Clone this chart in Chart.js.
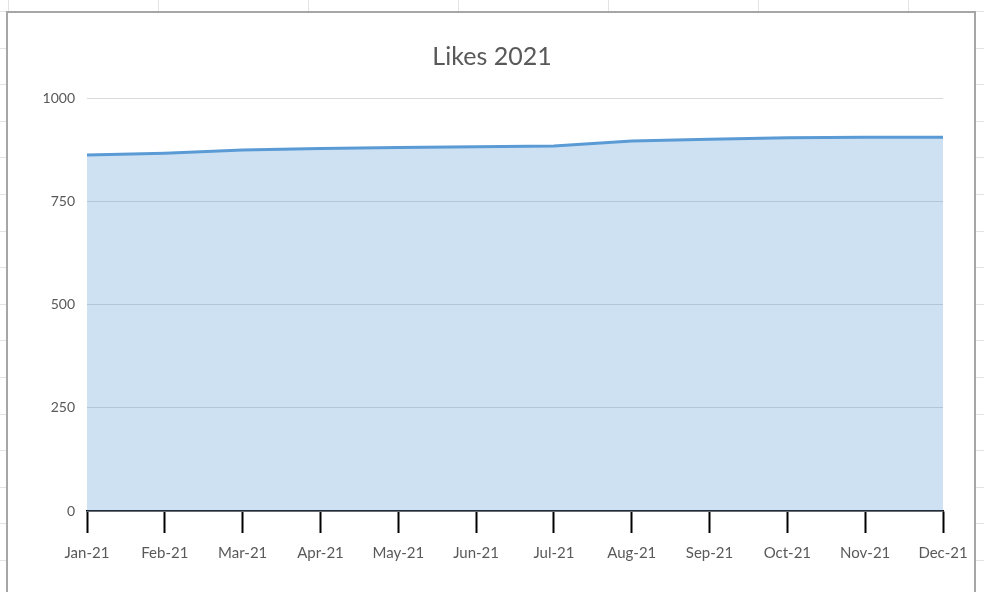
<!DOCTYPE html>
<html>
<head>
<meta charset="utf-8">
<script src="https://cdn.jsdelivr.net/npm/chart.js@4"></script>
<style>
  html, body { margin: 0; padding: 0; }
  body {
    width: 984px; height: 592px; overflow: hidden; position: relative;
    background-color: #fff;
    background-image:
      repeating-linear-gradient(to right, transparent 0 8px, #e3e3e3 8px 9px, transparent 9px 150px),
      repeating-linear-gradient(to bottom, transparent 0 11px, #e3e3e3 11px 12px, transparent 12px 36.6px);
  }
  #box {
    position: absolute; left: 6px; top: 11px; width: 966px; height: 600px;
    background: #fff; border: 2px solid #a6a6a6;
  }
  #wrap { position: absolute; left: 0; top: 0; width: 984px; height: 592px; }
</style>
</head>
<body>
<div id="box"></div>
<div id="wrap"><canvas id="myChart" width="984" height="592"></canvas></div>
<script>
const meses = ['Jan-21', 'Feb-21', 'Mar-21', 'Apr-21', 'May-21', 'Jun-21',
               'Jul-21', 'Aug-21', 'Sep-21', 'Oct-21', 'Nov-21', 'Dec-21'];
const likes = [862, 866, 874, 878, 880, 882, 884, 896, 900, 904, 905, 905];
const yTicks = [0, 250, 500, 750, 1000];

const gris = '#595959';

const ctx = document.getElementById('myChart');
const myChart = new Chart(ctx, {
  type: 'line',
  data: {
    labels: meses,
    datasets: [{
      data: likes,
      fill: 'origin',
      backgroundColor: 'rgba(91,155,213,0.3)',
      borderColor: '#5b9bd5',
      borderWidth: 3,
      tension: 0,
      pointRadius: 0
    }]
  },
  options: {
    responsive: false,
    animation: false,
    layout: { padding: 0 },
    plugins: {
      legend: { display: false },
      tooltip: { enabled: false },
      title: {
        display: true,
        text: 'Likes 2021',
        color: gris,
        font: { family: 'Lato', size: 25, weight: 'normal' },
        padding: { top: 42, bottom: 26 }
      }
    },
    scales: {
      x: {
        offset: false,
        grid: { drawOnChartArea: false, tickLength: 22, tickColor: '#000', tickWidth: 2 },
        border: { color: '#000', width: 1.5 },
        ticks: { color: gris, font: { family: 'Lato', size: 15 }, padding: 11, maxRotation: 0, autoSkip: false },
        afterFit: s => { s.height = 81; }
      },
      y: {
        min: 0,
        max: 1000,
        afterBuildTicks: s => { s.ticks = yTicks.map(v => ({ value: v })); },
        grid: { color: '#d9d9d9', lineWidth: 1, drawTicks: false },
        border: { display: false },
        ticks: { color: gris, font: { family: 'Lato', size: 14 }, padding: 12, callback: v => String(v) },
        afterFit: s => { s.width = 87; }
      },
      // espacio a la derecha para que el titulo quede centrado en todo el ancho
      derecha: {
        position: 'right',
        min: 0,
        max: 1000,
        grid: { display: false },
        border: { display: false },
        ticks: { display: false },
        afterFit: s => { s.width = 41; }
      }
    }
  }
});
</script>
</body>
</html>
